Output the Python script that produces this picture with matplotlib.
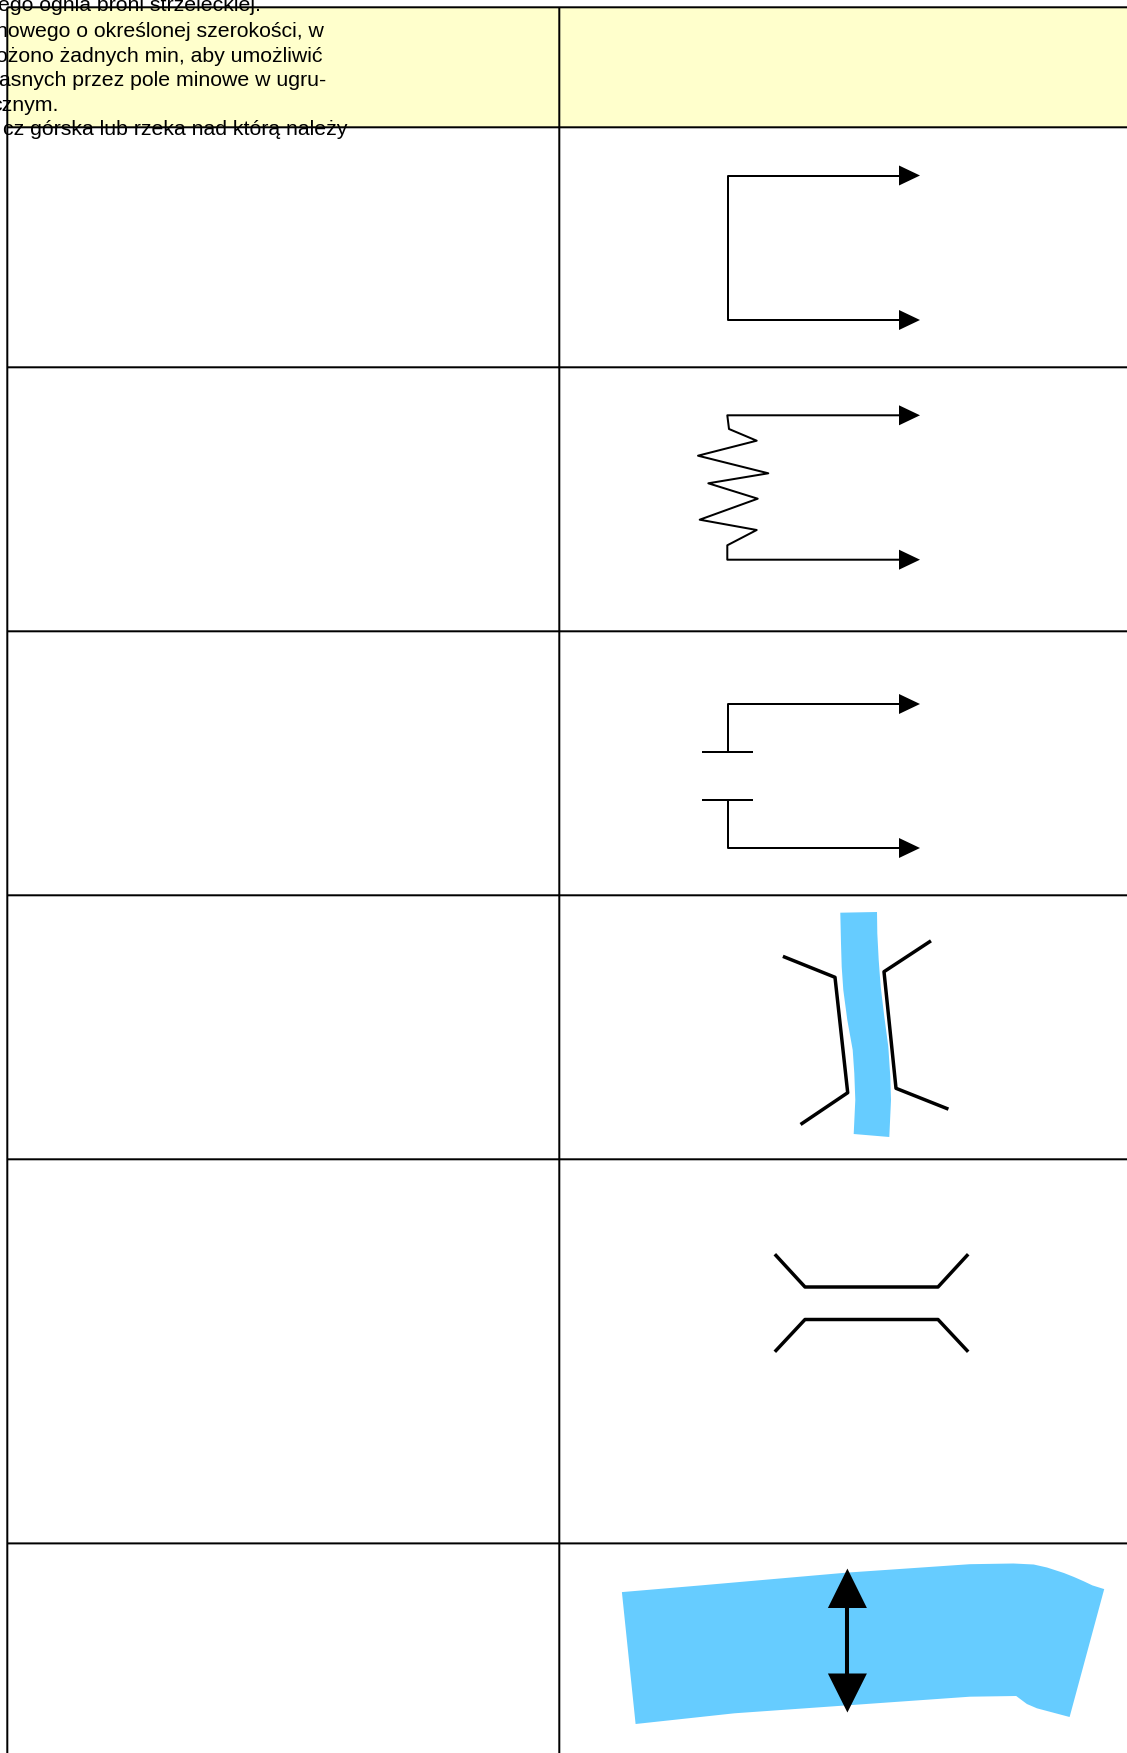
import matplotlib
matplotlib.use('Agg')
import matplotlib.pyplot as plt
from matplotlib.patches import Polygon

plt.rcParams['font.family'] = ['Liberation Sans', 'DejaVu Sans']

W = 1127
H = 1753

# table grid, pixels of the page
colLines = [7.3, 559.3]
rowLines = [7.3, 127.3, 367.3, 631.3, 895.3, 1159.3, 1543.4]

textLines = ['ego ognia broni strzeleckiej.',
             'nowego o określonej szerokości, w',
             'ożono żadnych min, aby umożliwić',
             'asnych przez pole minowe w ugru-',
             'cznym.',
             'cz górska lub rzeka nad którą należy']
textRight = [261, 324, 322.5, 326, 58, 347]
textBase = [11, 37, 61.5, 86, 110.5, 135]

# symbol 1 - gap with arrows
sym1X = [899, 728, 728, 899]
sym1Y = [175.5, 175.5, 320, 320]

# symbol 2 - zigzag
sym2X = [899, 727.3, 729, 756.7, 698, 768.3, 708.3, 757.7, 699.7, 756.7, 727.3, 727.3, 899]
sym2Y = [415.3, 415.3, 429, 440.7, 455.7, 473.3, 483.3, 498.7, 519.7, 530, 545.3, 559.7, 559.7]

# symbol 3 - two ticks
sym3TopX = [899, 728, 728]
sym3TopY = [704, 704, 752]
sym3BotX = [899, 728, 728]
sym3BotY = [848, 848, 800]
sym3TickX = [703, 752]
sym3TickY = [752, 800]

arrowTipX = 920
arrowBaseX = 899
arrowRows = [175.5, 320, 415.3, 559.7, 704, 848]

# symbol 4 - bridge over narrow river
river1X = [840.3, 877, 877.3, 878.7, 880.7, 884.3, 888.3, 890.3, 891, 889.3, 853.7, 855.3, 854.3, 852.7, 847.3, 843.3, 841.7, 841]
river1Y = [912.7, 912, 933.3, 960, 986.7, 1016.7, 1046.7, 1076.7, 1100, 1137, 1134, 1100, 1073.3, 1050, 1020, 990, 966.7, 943.3]
bridgeAX = [784.5, 835, 847.7, 802]
bridgeAY = [957, 977.3, 1092.7, 1123.5]
bridgeBX = [929.5, 884, 896, 946.8]
bridgeBY = [941.8, 971.7, 1088.3, 1108.5]

# symbol 5 - bridge
bridgeCX = [776, 805, 938, 967]
bridgeCY = [1255.5, 1287, 1287, 1255.5]
bridgeDX = [776, 805, 938, 967]
bridgeDY = [1350.5, 1319.5, 1319.5, 1350.5]

# symbol 6 - wide river with double arrow
river2X = [621.9, 700.8, 847.1, 969.8, 1013.4, 1033.7, 1047, 1063.9, 1074, 1084, 1092.4, 1104.2,
           1069.6, 1036.9, 1026.9, 1016.2, 969.8, 852.1, 734.4, 635.6]
river2Y = [1592.1, 1585.4, 1572.6, 1564.2, 1563.5, 1564.5, 1567.5, 1573, 1577, 1581.4, 1585.4, 1589.1,
           1717, 1708.3, 1704, 1696, 1696.7, 1705, 1713.3, 1724]
dblArrowX = 847.4
dblTipTop = 1568.6
dblBaseTop = 1608
dblBaseBot = 1673.5
dblTipBot = 1712.5
dblHalf = 19.5

lineW = 1.44
thinW = 1.44
boldW = 2.5

fig = plt.figure(figsize=(W / 100, H / 100), dpi=100)
ax = fig.add_axes([0, 0, 1, 1])
ax.set_xlim(0, W)
ax.set_ylim(H, 0)
ax.axis('off')

# yellow header
ax.add_patch(Polygon([(colLines[0], rowLines[0]), (W, rowLines[0]), (W, rowLines[1]), (colLines[0], rowLines[1])],
                     facecolor='#FFFFCC', edgecolor='none', zorder=1))

for i in range(len(textLines)):
    ax.text(textRight[i], textBase[i], textLines[i], ha='right', va='baseline',
            fontsize=15.3, color='black', zorder=2)

for y in rowLines:
    ax.plot([colLines[0], W], [y, y], color='black', lw=lineW, zorder=3, solid_capstyle='butt', snap=False)
for x in colLines:
    ax.plot([x, x], [rowLines[0], H], color='black', lw=lineW, zorder=3, solid_capstyle='butt', snap=False)

# arrows symbols
ax.plot(sym1X, sym1Y, color='black', lw=thinW, zorder=4)
ax.plot(sym2X, sym2Y, color='black', lw=thinW, zorder=4)
ax.plot(sym3TopX, sym3TopY, color='black', lw=thinW, zorder=4)
ax.plot(sym3BotX, sym3BotY, color='black', lw=thinW, zorder=4)
for y in sym3TickY:
    ax.plot(sym3TickX, [y, y], color='black', lw=thinW, zorder=4)
for y in arrowRows:
    ax.add_patch(Polygon([(arrowBaseX, y - 10), (arrowTipX, y), (arrowBaseX, y + 10)],
                         facecolor='black', edgecolor='none', zorder=5))

# rivers and bridges
ax.add_patch(Polygon(list(zip(river1X, river1Y)), facecolor='#66CCFF', edgecolor='none', zorder=2))
ax.plot(bridgeAX, bridgeAY, color='black', lw=boldW, zorder=4)
ax.plot(bridgeBX, bridgeBY, color='black', lw=boldW, zorder=4)
ax.plot(bridgeCX, bridgeCY, color='black', lw=boldW, zorder=4)
ax.plot(bridgeDX, bridgeDY, color='black', lw=boldW, zorder=4)

ax.add_patch(Polygon(list(zip(river2X, river2Y)), facecolor='#66CCFF', edgecolor='none', zorder=2))
ax.plot([dblArrowX, dblArrowX], [dblBaseTop, dblBaseBot], color='black', lw=2.9, zorder=4, solid_capstyle='butt')
ax.add_patch(Polygon([(dblArrowX - dblHalf, dblBaseTop), (dblArrowX, dblTipTop), (dblArrowX + dblHalf, dblBaseTop)],
                     facecolor='black', edgecolor='none', zorder=5))
ax.add_patch(Polygon([(dblArrowX - dblHalf, dblBaseBot), (dblArrowX, dblTipBot), (dblArrowX + dblHalf, dblBaseBot)],
                     facecolor='black', edgecolor='none', zorder=5))

plt.savefig('out.png', dpi=100)
